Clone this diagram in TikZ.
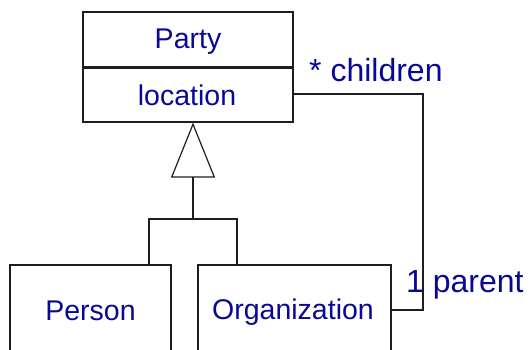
\documentclass[tikz,border=0pt]{standalone}
\usepackage{fontspec}
\setmainfont{Liberation Sans}
\usetikzlibrary{arrows.meta}
\definecolor{umltext}{RGB}{8,8,150}
\definecolor{umlline}{RGB}{30,30,30}
\tikzset{
  classbox/.style={draw=umlline, line width=1.2pt, rectangle, inner sep=0pt},
  classname/.style={text=umltext, font=\fontsize{28.5}{34}\selectfont, inner sep=0pt, anchor=base},
  rolename/.style={text=umltext, font=\fontsize{32}{37}\selectfont, inner sep=0pt, anchor=base west},
  link/.style={draw=umlline, line width=1.2pt},
  generalization/.style={link, -{Triangle[open, length=55pt, width=44pt]}},
}
\begin{document}
\begin{tikzpicture}[x=1pt, y=-1pt]
  \useasboundingbox (0,0) rectangle (530,350);
  \clip (0,0) rectangle (530,350);

  % Party class: name compartment and attribute compartment
  \node[classbox, minimum width=210pt, minimum height=55pt] (party) at (188,39.5) {};
  \node[classbox, minimum width=210pt, minimum height=55pt] (partyattr) at (188,94.5) {};
  \draw[umlline, line width=2.4pt] (party.south west) -- (party.south east);
  \node[classname] (partytxt) at (188,49) {Party};
  \node[classname] (locationtxt) at (187,106) {location};

  % Subclasses (running past the lower edge)
  \node[classbox, minimum width=161pt, minimum height=95pt] (person) at (90.5,312.5) {};
  \node[classbox, minimum width=193pt, minimum height=95pt] (org) at (294.5,312.5) {};
  \node[classname] (persontxt) at (90.5,320) {Person};
  \node[classname] (orgtxt) at (293,319) {Organization};

  % Generalization tree
  \coordinate (junction) at (193,219);
  \draw[generalization] (junction) -- (junction |- partyattr.south);
  \draw[link] (149,0 |- person.north) |- (junction) -| (237,0 |- org.north);

  % Parent/children association
  \coordinate (bendtop) at (423,94);
  \coordinate (bendbottom) at (423,310);
  \draw[link] (partyattr.east |- bendtop) -- (bendtop) -- (bendbottom) -- (org.east |- bendbottom);
  \node[rolename] (childrenlbl) at (309,82) {* children};
  \node[rolename] (parentlbl) at (406,292) {1 parent};
\end{tikzpicture}
\end{document}
